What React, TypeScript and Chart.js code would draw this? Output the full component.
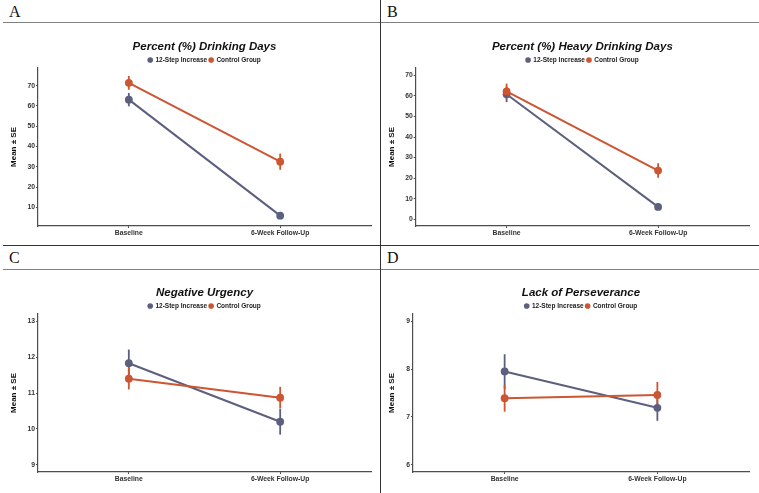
import { useEffect, useRef } from "react";
import { Chart, registerables } from "chart.js";

Chart.register(...registerables);

const categories = ["Baseline", "6-Week Follow-Up"];
const groupNames = ["12-Step Increase", "Control Group"];
const groupColors = ["#5c5f7e", "#cc5532"];

// Percent (%) Drinking Days
const pddTwelveStep = [63.1, 5.9];
const pddTwelveStepSE = [3.3, 1.7];
const pddControl = [71.4, 32.5];
const pddControlSE = [3.4, 4.0];
const pddTicks = [10, 20, 30, 40, 50, 60, 70];

// Percent (%) Heavy Drinking Days
const phdTwelveStep = [60.8, 6.0];
const phdTwelveStepSE = [3.8, 1.5];
const phdControl = [62.2, 23.7];
const phdControlSE = [3.8, 3.5];
const phdTicks = [0, 10, 20, 30, 40, 50, 60, 70];

// Negative Urgency
const nuTwelveStep = [11.83, 10.2];
const nuTwelveStepSE = [0.38, 0.36];
const nuControl = [11.4, 10.87];
const nuControlSE = [0.3, 0.3];
const nuTicks = [9, 10, 11, 12, 13];

// Lack of Perseverance
const lpTwelveStep = [7.95, 7.19];
const lpTwelveStepSE = [0.36, 0.27];
const lpControl = [7.39, 7.46];
const lpControlSE = [0.28, 0.27];
const lpTicks = [6, 7, 8, 9];

const SANS = "'Liberation Sans', Arial, sans-serif";
const SERIF = "'Liberation Serif', 'Times New Roman', serif";

type Panel = {
  letter: string;
  title: string;
  twelve: number[];
  twelveSE: number[];
  control: number[];
  controlSE: number[];
  ticks: number[];
  yMin: number;
  yMax: number;
  left: number;
  top: number;
  width: number;
  height: number;
  axisX: number;
  axisEnd: number;
  yTitleX: number;
  letterX: number;
  letterY: number;
};

const panels: Panel[] = [
  {
    letter: "A", title: "Percent (%) Drinking Days",
    twelve: pddTwelveStep, twelveSE: pddTwelveStepSE, control: pddControl, controlSE: pddControlSE,
    ticks: pddTicks, yMin: 0.8, yMax: 78.7,
    left: 0, top: 24, width: 378, height: 220, axisX: 38, axisEnd: 371, yTitleX: 14,
    letterX: 9, letterY: 4,
  },
  {
    letter: "B", title: "Percent (%) Heavy Drinking Days",
    twelve: phdTwelveStep, twelveSE: phdTwelveStepSE, control: phdControl, controlSE: phdControlSE,
    ticks: phdTicks, yMin: -3.3, yMax: 73.6,
    left: 380, top: 24, width: 379, height: 220, axisX: 35.7, axisEnd: 369, yTitleX: 12,
    letterX: 387, letterY: 4,
  },
  {
    letter: "C", title: "Negative Urgency",
    twelve: nuTwelveStep, twelveSE: nuTwelveStepSE, control: nuControl, controlSE: nuControlSE,
    ticks: nuTicks, yMin: 8.8, yMax: 13.2,
    left: 0, top: 270, width: 378, height: 220, axisX: 38, axisEnd: 371, yTitleX: 14,
    letterX: 9, letterY: 250,
  },
  {
    letter: "D", title: "Lack of Perseverance",
    twelve: lpTwelveStep, twelveSE: lpTwelveStepSE, control: lpControl, controlSE: lpControlSE,
    ticks: lpTicks, yMin: 5.85, yMax: 9.15,
    left: 380, top: 270, width: 379, height: 220, axisX: 33, axisEnd: 369, yTitleX: 12,
    letterX: 387, letterY: 250,
  },
];

// Vertical standard-error bars drawn under the points of each group.
const errorBarPlugin = {
  id: "errorBars",
  beforeDatasetsDraw(chart: any, _args: any, opts: any) {
    const { ctx } = chart;
    const xScale = chart.scales.x;
    const yScale = chart.scales.y;
    const errors: number[][] = opts.errors || [];
    chart.data.datasets.forEach((ds: any, i: number) => {
      const se = errors[i];
      if (!se) return;
      ctx.save();
      ctx.strokeStyle = ds.borderColor;
      ctx.lineWidth = 1.8;
      ds.data.forEach((pt: any, j: number) => {
        const x = xScale.getPixelForValue(pt.x);
        const y1 = yScale.getPixelForValue(pt.y + se[j]);
        const y2 = yScale.getPixelForValue(pt.y - se[j]);
        ctx.beginPath();
        ctx.moveTo(x, y1);
        ctx.lineTo(x, y2);
        ctx.stroke();
      });
      ctx.restore();
    });
  },
};

function PanelChart({ p }: { p: Panel }) {
  const ref = useRef<HTMLCanvasElement>(null);

  useEffect(() => {
    const series = [p.twelve, p.control];
    const datasets = series.map((vals, i) => ({
      label: groupNames[i],
      data: vals.map((v, j) => ({ x: j + 1, y: v })),
      borderColor: groupColors[i],
      backgroundColor: groupColors[i],
      pointBackgroundColor: groupColors[i],
      pointBorderWidth: 0,
      pointRadius: 3.9,
      borderWidth: 2,
      order: i === 0 ? 1 : 0,
    }));

    const axisColor = "#4d4d4d";
    const chart = new Chart(ref.current as HTMLCanvasElement, {
      type: "line",
      data: { datasets },
      plugins: [errorBarPlugin],
      options: {
        animation: false,
        responsive: false,
        maintainAspectRatio: false,
        events: [],
        layout: { padding: { left: 0, right: p.width - p.axisEnd, top: 0, bottom: 4 } },
        scales: {
          x: {
            type: "linear",
            min: 0.4,
            max: 2.6,
            afterBuildTicks: (s: any) => {
              s.ticks = categories.map((_, i) => ({ value: i + 1 }));
            },
            afterFit: (s: any) => {
              s.height = 14;
            },
            ticks: {
              callback: (v: any) => categories[Math.round(Number(v)) - 1] ?? "",
              font: { family: SANS, size: 6.8, weight: "bold" },
              color: "#333",
              padding: 1,
              maxRotation: 0,
              autoSkip: false,
            },
            grid: { display: true, drawOnChartArea: false, drawTicks: true, tickLength: 2, color: axisColor },
            border: { display: true, color: axisColor, width: 1.2 },
          },
          y: {
            type: "linear",
            min: p.yMin,
            max: p.yMax,
            afterBuildTicks: (s: any) => {
              s.ticks = p.ticks.map((v) => ({ value: v }));
            },
            afterFit: (s: any) => {
              s.width = p.axisX;
            },
            ticks: {
              callback: (v: any) => String(v),
              font: { family: SANS, size: 6.8, weight: "bold" },
              color: "#333",
              padding: 1,
              autoSkip: false,
            },
            grid: { display: true, drawOnChartArea: false, drawTicks: true, tickLength: 2, color: axisColor },
            border: { display: true, color: axisColor, width: 1.2 },
            title: {
              display: true,
              text: "Mean ± SE",
              font: { family: SANS, size: 8, weight: "bold" },
              color: "#111",
              padding: { top: p.yTitleX - 4.8, bottom: 0 },
            },
          },
        },
        plugins: {
          tooltip: { enabled: false },
          title: {
            display: true,
            text: p.title,
            fullSize: false,
            font: { family: SANS, size: 11.5, weight: "bold", style: "italic" },
            color: "#111",
            padding: { top: 16.1, bottom: 0.85 },
          },
          legend: {
            display: true,
            position: "top",
            fullSize: false,
            maxHeight: 13.25,
            labels: {
              usePointStyle: true,
              boxWidth: 4,
              boxHeight: 4,
              padding: 2,
              color: "#222",
              font: { family: SANS, size: 6.5, weight: "bold" },
              sort: (a: any, b: any) => a.datasetIndex - b.datasetIndex,
              generateLabels: (c: any) =>
                (Chart.defaults.plugins.legend.labels as any)
                  .generateLabels(c)
                  .map((l: any) => ({ ...l, lineWidth: 0 })),
            },
          },
          errorBars: { errors: [p.twelveSE, p.controlSE] },
        } as any,
      },
    } as any);
    return () => chart.destroy();
  }, [p]);

  return (
    <canvas
      ref={ref}
      width={p.width}
      height={p.height}
      style={{ position: "absolute", left: p.left, top: p.top, width: p.width, height: p.height }}
    />
  );
}

function Rule({ x, y, w, h, color }: { x: number; y: number; w: number; h: number; color: string }) {
  return <div style={{ position: "absolute", left: x, top: y, width: w, height: h, background: color }} />;
}

export default function App() {
  return (
    <div
      style={{
        position: "absolute",
        left: 0,
        top: 0,
        width: 759,
        height: 493,
        background: "#fff",
        overflow: "hidden",
      }}
    >
      {panels.map((p) => (
        <PanelChart key={p.letter} p={p} />
      ))}
      {panels.map((p) => (
        <div
          key={"l" + p.letter}
          style={{
            position: "absolute",
            left: p.letterX,
            top: p.letterY,
            fontFamily: SERIF,
            fontSize: 16,
            lineHeight: "16px",
            color: "#111",
          }}
        >
          {p.letter}
        </div>
      ))}
      <Rule x={3} y={22} w={756} h={1.2} color="#808080" />
      <Rule x={3} y={244.5} w={756} h={1.2} color="#333" />
      <Rule x={3} y={268.5} w={756} h={1.2} color="#808080" />
      <Rule x={379.5} y={0} w={1.2} h={493} color="#333" />
    </div>
  );
}
